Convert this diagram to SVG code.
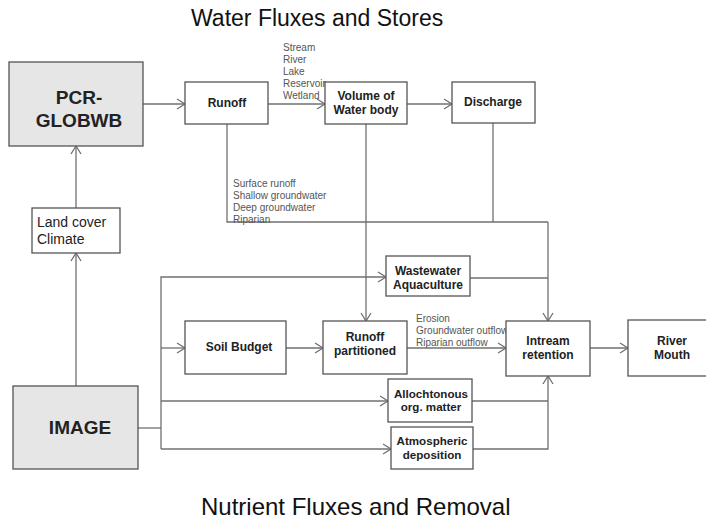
<svg xmlns="http://www.w3.org/2000/svg" width="706" height="521" viewBox="0 0 706 521">
<style>
.box{fill:#fff;stroke:#555;stroke-width:1.3}
.grey{fill:#e6e6e6;stroke:#555;stroke-width:1.3}
.lbl{font-family:"Liberation Sans",Arial,sans-serif;font-weight:bold;font-size:12px;fill:#222;text-anchor:middle}
.big{font-family:"Liberation Sans",Arial,sans-serif;font-weight:bold;font-size:19px;fill:#222;text-anchor:middle}
.reg{font-family:"Liberation Sans",Arial,sans-serif;font-size:14px;fill:#222}
.small{font-family:"Liberation Sans",Arial,sans-serif;font-size:10px;fill:#555}
.title{font-family:"Liberation Sans",Arial,sans-serif;font-size:23px;fill:#111}
.ln{fill:none;stroke:#707070;stroke-width:1.3}
.arr{marker-end:url(#ah)}
</style>
<defs>
<marker id="ah" markerUnits="userSpaceOnUse" markerWidth="12" markerHeight="12" viewBox="-10 -6 12 12" refX="0" refY="0" orient="auto">
<path d="M-8,-5 L0,0 L-8,5" fill="none" stroke="#707070" stroke-width="1.3"/>
</marker>
</defs>
<text class="title" x="191" y="26">Water Fluxes and Stores</text>
<text class="title" x="201" y="515" style="font-size:24px">Nutrient Fluxes and Removal</text>
<g id="connectors">
<path class="ln arr" d="M143,104 H185"/>
<path class="ln arr" d="M268,104 H325"/>
<path class="ln arr" d="M407,104 H452"/>
<path class="ln arr" d="M76,208 V146"/>
<path class="ln arr" d="M76,386 V253"/>
<path class="ln" d="M227,124 V222 H548"/>
<path class="ln" d="M493,123 V222"/>
<path class="ln arr" d="M366,124 V321"/>
<path class="ln arr" d="M548,222 V321"/>
<path class="ln" d="M470,278 H548"/>
<path class="ln arr" d="M161,449 V277 H386"/>
<path class="ln" d="M138,428 H161"/>
<path class="ln arr" d="M161,348 H185"/>
<path class="ln arr" d="M286,348 H323"/>
<path class="ln arr" d="M407,348 H506"/>
<path class="ln arr" d="M590,348 H628"/>
<path class="ln arr" d="M161,401 H388"/>
<path class="ln arr" d="M161,449 H391"/>
<path class="ln" d="M472,401 H548"/>
<path class="ln arr" d="M473,449 H548 V376"/>
<text class="small" x="283"><tspan x="283" y="51">Stream</tspan><tspan x="283" y="63">River</tspan><tspan x="283" y="75">Lake</tspan><tspan x="283" y="87">Reservoir</tspan><tspan x="283" y="99">Wetland</tspan></text>
<text class="small" x="233"><tspan x="233" y="187">Surface runoff</tspan><tspan x="233" y="199">Shallow groundwater</tspan><tspan x="233" y="211">Deep groundwater</tspan><tspan x="233" y="223">Riparian</tspan></text>
<text class="small" x="416"><tspan x="416" y="322">Erosion</tspan><tspan x="416" y="334">Groundwater outflow</tspan><tspan x="416" y="346">Riparian outflow</tspan></text>
</g>
<g id="pcr"><rect class="grey" x="9" y="62" width="134" height="84"/><text class="big" x="79" y="104">PCR-</text><text class="big" x="79" y="127">GLOBWB</text></g>
<g id="landcover"><rect class="box" x="32" y="208" width="88" height="45"/><text class="reg" x="37" y="227">Land cover</text><text class="reg" x="37" y="244">Climate</text></g>
<g id="image"><rect class="grey" x="13" y="386" width="125" height="83"/><text class="big" x="80" y="434">IMAGE</text></g>
<g id="runoff"><rect class="box" x="185" y="82" width="83" height="42"/><text class="lbl" x="227" y="107">Runoff</text></g>
<g id="volume"><rect class="box" x="325" y="82" width="82" height="42"/><text class="lbl" x="366" y="100">Volume of</text><text class="lbl" x="366" y="114">Water body</text></g>
<g id="discharge"><rect class="box" x="452" y="82" width="83" height="41"/><text class="lbl" x="493" y="106">Discharge</text></g>
<g id="wastewater"><rect class="box" x="386" y="256" width="84" height="40"/><text class="lbl" x="428" y="275">Wastewater</text><text class="lbl" x="428" y="289">Aquaculture</text></g>
<g id="soil"><rect class="box" x="185" y="321" width="101" height="53"/><text class="lbl" x="239" y="351">Soil Budget</text></g>
<g id="partitioned"><rect class="box" x="323" y="321" width="84" height="53"/><text class="lbl" x="365" y="341">Runoff</text><text class="lbl" x="365" y="355">partitioned</text></g>
<g id="intream"><rect class="box" x="506" y="321" width="84" height="55"/><text class="lbl" x="548" y="345">Intream</text><text class="lbl" x="548" y="359">retention</text></g>
<g id="rivermouth"><rect class="box" x="628" y="320" width="88" height="56"/><text class="lbl" x="672" y="345">River</text><text class="lbl" x="672" y="359">Mouth</text></g>
<g id="allochtonous"><rect class="box" x="388" y="379" width="84" height="43"/><text class="lbl" x="431" y="398" style="font-size:11.6px">Allochtonous</text><text class="lbl" x="431" y="411" style="font-size:11.6px">org. matter</text></g>
<g id="atmospheric"><rect class="box" x="391" y="427" width="82" height="42"/><text class="lbl" x="432" y="445" style="font-size:11.6px">Atmospheric</text><text class="lbl" x="432" y="459" style="font-size:11.6px">deposition</text></g>
</svg>
